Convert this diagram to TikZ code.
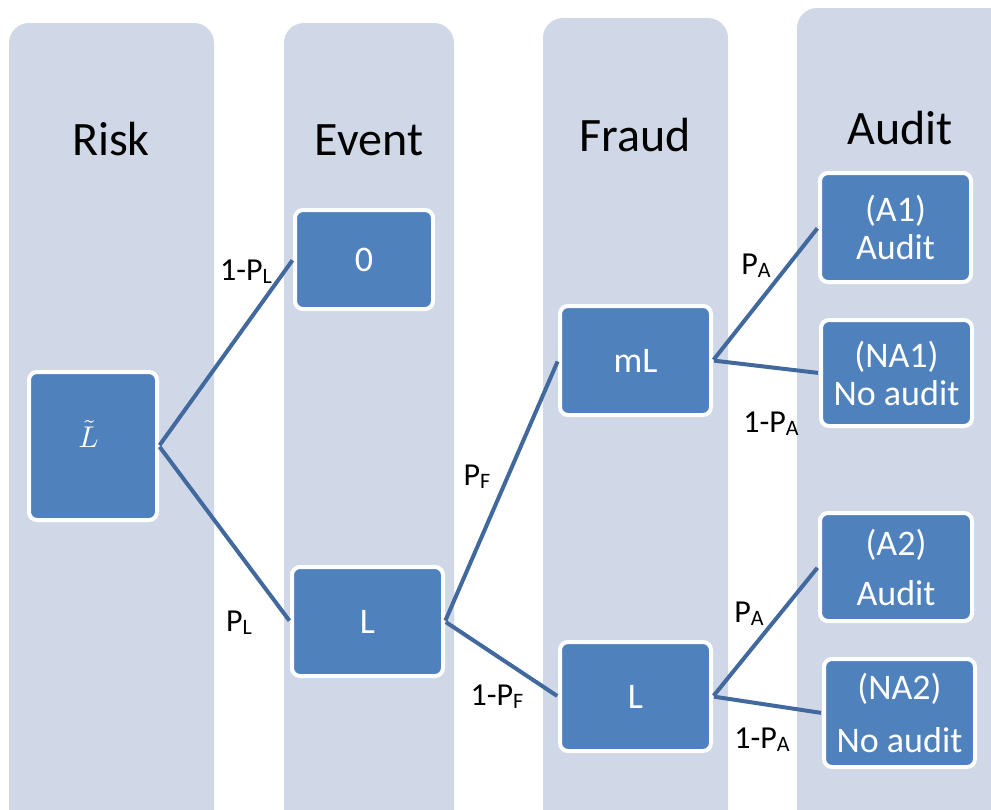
\documentclass[tikz,border=0pt]{standalone}
\usepackage{fontspec}
\setmainfont{Carlito}
\definecolor{colbg}{HTML}{D0D8E8}
\definecolor{nodebl}{HTML}{4F81BD}
\definecolor{linebl}{HTML}{41699E}
\newcommand\psub[1]{\raisebox{-3pt}{\fontsize{22}{22}\selectfont #1}}
\tikzset{
  column/.style={fill=colbg, draw=none, rounded corners=20pt},
  box/.style={fill=nodebl, draw=white, line width=4pt, rounded corners=8pt,
    inner sep=0pt, text=white, align=center, font=\fontsize{36}{38}\selectfont},
  title/.style={anchor=base, font=\fontsize{48}{52}\selectfont, text=black, inner sep=0pt},
  prob/.style={anchor=base, font=\fontsize{32}{34}\selectfont, text=black, inner sep=0pt},
  conn/.style={draw=linebl, line width=4pt, shorten <=1pt, shorten >=1pt}
}
\begin{document}
\begin{tikzpicture}[x=1pt,y=-1pt]
\useasboundingbox (0,0) rectangle (991,809);
\clip (0,0) rectangle (991,809);
% columns
\fill[column] (9,23) rectangle (214,830);
\fill[column] (284,23) rectangle (454,830);
\fill[column] (543,18) rectangle (728,830);
\fill[column] (797,8) rectangle (1030,830);
% titles
\node[title] (tRisk) at (111,155) {Risk};
\node[title] (tEvent) at (369,155) {Event};
\node[title] (tFraud) at (635,151) {Fraud};
\node[title] (tAudit) at (900,144) {Audit};
% nodes
\node[box, minimum width=128pt, minimum height=148pt] (Lt) at (93,446) {};
\node[text=white, inner sep=0pt] (LtT) at ([xshift=-4.5pt,yshift=12pt]Lt.center) {\fontsize{10}{12}\selectfont\scalebox{3}{$\tilde{L}$}};
\node[box, minimum width=138pt, minimum height=99pt] (n0) at (364,259.5) {0};
\node[box, minimum width=151pt, minimum height=109pt] (Le) at (367.5,621.5) {L};
\node[box, minimum width=151pt, minimum height=109pt] (mL) at (635.5,360.5) {mL};
\node[box, minimum width=151pt, minimum height=109pt] (Lf) at (635.5,696.5) {L};
\node[box, minimum width=151pt, minimum height=109pt] (A1) at (895.5,227.5) {(A1)\\Audit};
\node[box, minimum width=151pt, minimum height=106pt] (NA1) at (896.5,373) {(NA1)\\No audit};
\node[box, minimum width=152pt, minimum height=108pt] (A2) at (896,567) {(A2)\\[12pt]Audit};
\node[box, minimum width=151pt, minimum height=108pt] (NA2) at (899.5,713) {(NA2)\\[15pt]No audit};
% connectors
\draw[conn] (Lt.east) -- (n0.west);
\draw[conn] (Lt.east) -- (Le.west);
\draw[conn] (Le.east) -- (mL.west);
\draw[conn] (Le.east) -- (Lf.west);
\draw[conn] (mL.east) -- (A1.west);
\draw[conn] (mL.east) -- (NA1.west);
\draw[conn] (Lf.east) -- (A2.west);
\draw[conn] (Lf.east) -- (NA2.west);
% labels
\node[prob] (p1) at (246,280) {1-P\psub{L}};
\node[prob] (p2) at (239,631) {P\psub{L}};
\node[prob] (p3) at (477,485) {P\psub{F}};
\node[prob] (p4) at (497,705) {1-P\psub{F}};
\node[prob] (p5) at (756,274) {P\psub{A}};
\node[prob] (p6) at (771,432) {1-P\psub{A}};
\node[prob] (p7) at (749,622) {P\psub{A}};
\node[prob] (p8) at (762,748) {1-P\psub{A}};
\end{tikzpicture}
\end{document}
